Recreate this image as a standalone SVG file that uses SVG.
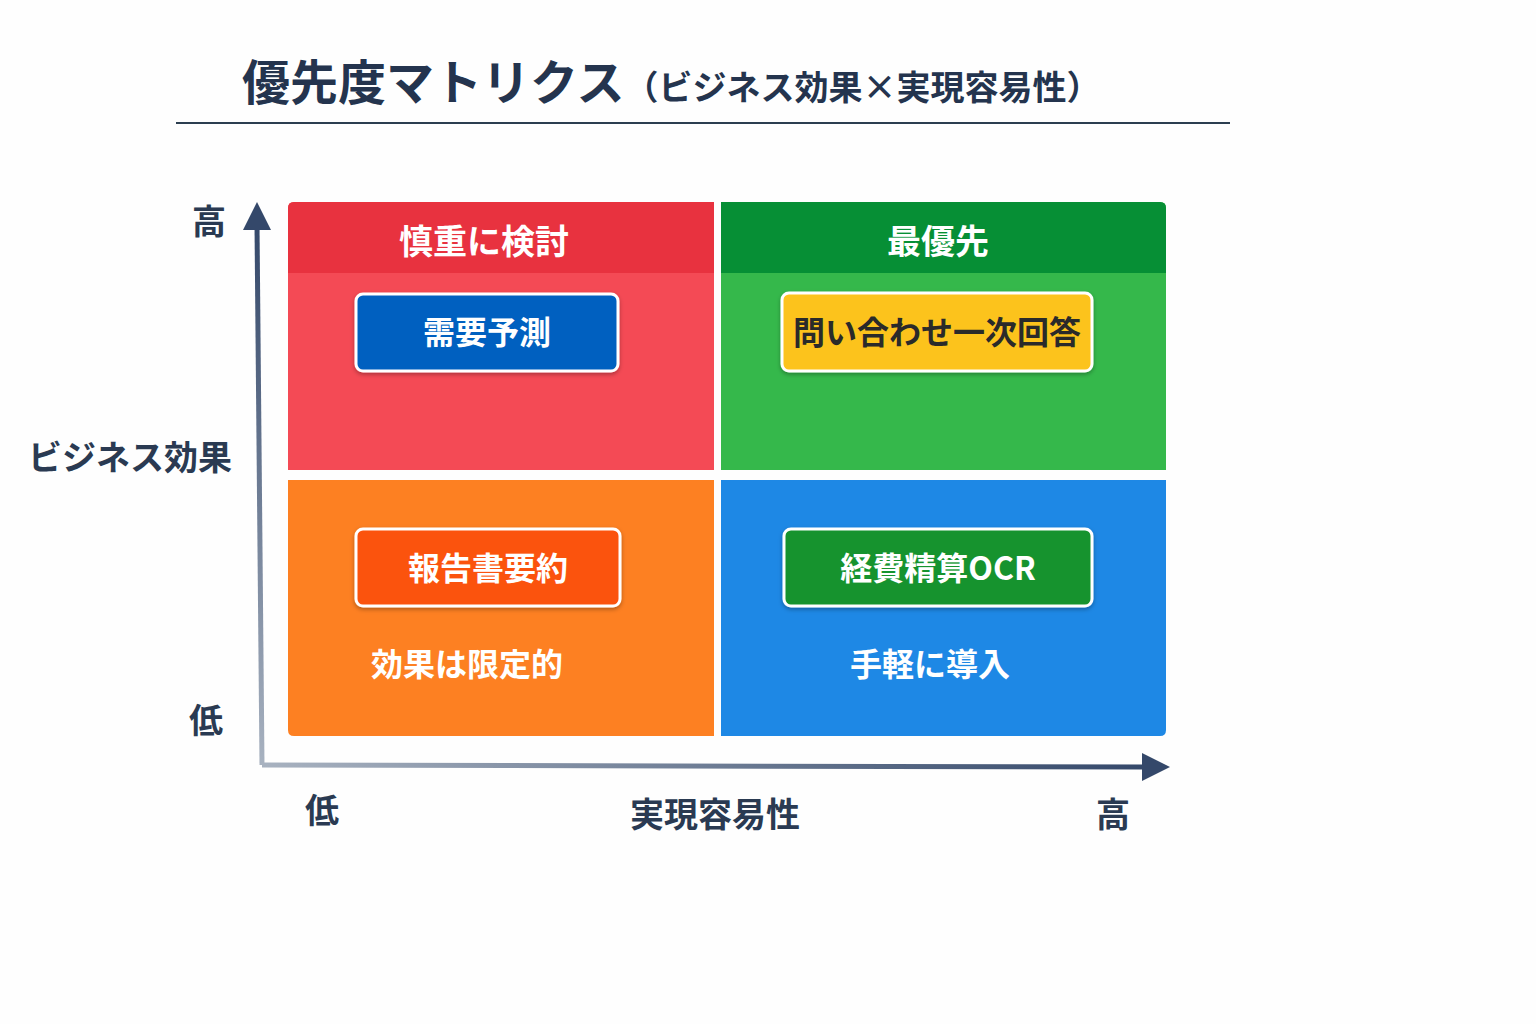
<svg xmlns="http://www.w3.org/2000/svg" width="1536" height="1024" viewBox="0 0 1536 1024">
<defs>
<style>
text{font-family:"Noto Sans CJK JP","Noto Sans",sans-serif;font-weight:bold;text-anchor:middle}
.ax{fill:#2a3a52;font-size:34px}
.hd{fill:#fff;font-size:34px}
.bx{stroke:#fff;stroke-width:3}
.bt{font-size:32px;fill:#fff}
</style>
<linearGradient id="gy" x1="0" y1="1" x2="0" y2="0"><stop offset="0" stop-color="#a8b2c0"/><stop offset="1" stop-color="#34486a"/></linearGradient>
<linearGradient id="gx" x1="0" y1="0" x2="1" y2="0"><stop offset="0" stop-color="#a8b2c0"/><stop offset="1" stop-color="#34486a"/></linearGradient>
<filter id="sh" x="-10%" y="-10%" width="120%" height="130%"><feDropShadow dx="0" dy="2" stdDeviation="2" flood-opacity="0.3"/></filter>
</defs>
<rect width="1536" height="1024" fill="#fefefe"/>
<g id="title">
<text x="242" y="100" style="text-anchor:start;font-size:48px;fill:#24344e">優先度マトリクス<tspan font-size="34px">（ビジネス効果×実現容易性）</tspan></text>
<line x1="176" y1="123" x2="1230" y2="123" stroke="#2c3e50" stroke-width="2"/>
</g>
<g id="q-tl">
<path d="M294 202H714V470H288V208Q288 202 294 202Z" fill="#f44a55"/>
<path d="M294 202H714V273H288V208Q288 202 294 202Z" fill="#e8323f"/>
<text class="hd" x="484" y="254">慎重に検討</text>
</g>
<g id="q-tr">
<path d="M721 202H1160Q1166 202 1166 208V470H721Z" fill="#35b84b"/>
<path d="M721 202H1160Q1166 202 1166 208V273H721Z" fill="#068f35"/>
<text class="hd" x="938" y="254">最優先</text>
</g>
<g id="q-bl">
<path d="M288 480H714V736H294Q288 736 288 730Z" fill="#fd8022"/>
<text class="bt" x="467" y="676">効果は限定的</text>
</g>
<g id="q-br">
<path d="M721 480H1166V730Q1166 736 1160 736H721Z" fill="#1e88e5"/>
<text class="bt" x="930" y="676">手軽に導入</text>
</g>
<g id="n1"><rect class="bx" x="356" y="294" width="262" height="77" rx="7" fill="#0561c0" filter="url(#sh)"/><text class="bt" x="487" y="344">需要予測</text></g>
<g id="n2"><rect class="bx" x="782" y="293" width="310" height="78" rx="7" fill="#fcc31a" filter="url(#sh)"/><text class="bt" x="937" y="344" fill="#2a2a2a" style="fill:#2a2a2a">問い合わせ一次回答</text></g>
<g id="n3"><rect class="bx" x="356" y="529" width="264" height="77" rx="7" fill="#fb5209" filter="url(#sh)"/><text class="bt" x="488" y="580">報告書要約</text></g>
<g id="n4"><rect class="bx" x="784" y="529" width="308" height="77" rx="7" fill="#13932f" filter="url(#sh)"/><text class="bt" x="938" y="580">経費精算OCR</text></g>
<g id="connectors">
<path d="M262 765L257 225" stroke="url(#gy)" stroke-width="5" fill="none"/>
<polygon points="257,202 243,230 271,230" fill="#34486a"/>
<path d="M262 765L1145 767" stroke="url(#gx)" stroke-width="5" fill="none"/>
<polygon points="1170,767 1142,753 1142,781" fill="#34486a"/>
</g>
<g id="labels">
<text class="ax" x="209" y="234">高</text>
<text class="ax" x="130" y="470">ビジネス効果</text>
<text class="ax" x="206" y="733">低</text>
<text class="ax" x="322" y="823">低</text>
<text class="ax" x="715" y="827">実現容易性</text>
<text class="ax" x="1113" y="827">高</text>
</g>
</svg>
